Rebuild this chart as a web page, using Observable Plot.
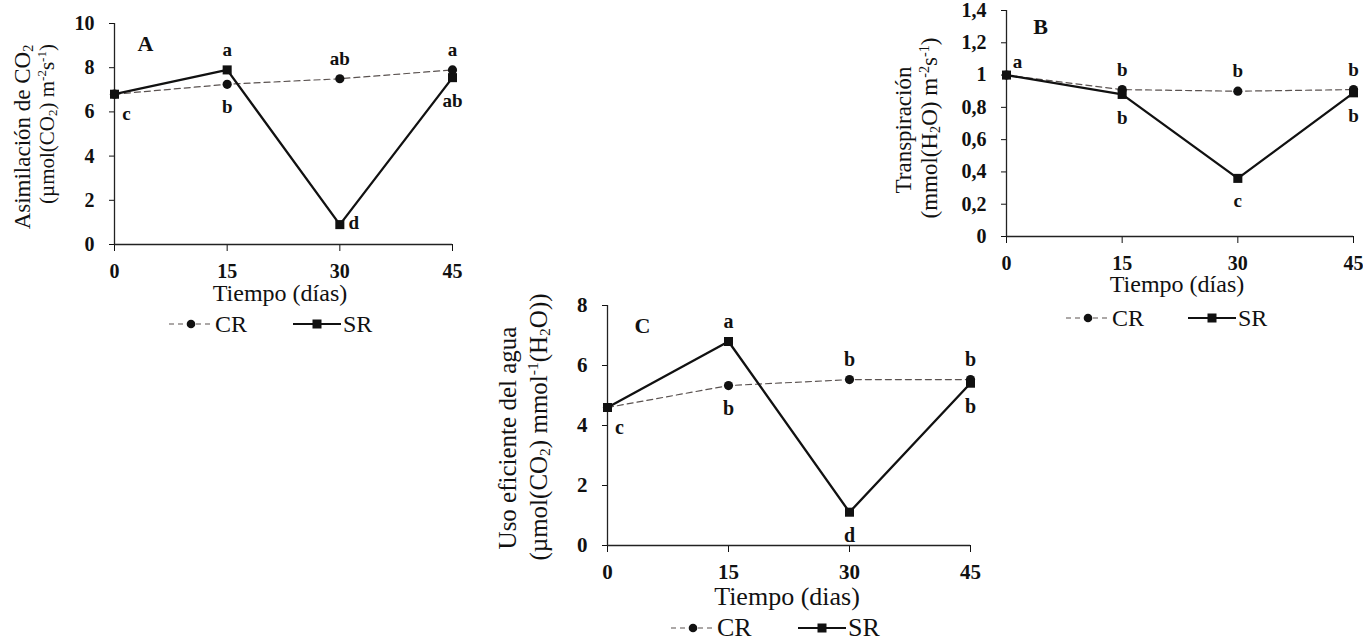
<!DOCTYPE html>
<html>
<head>
<meta charset="utf-8">
<script src="https://cdn.jsdelivr.net/npm/d3@7"></script>
<script src="https://cdn.jsdelivr.net/npm/@observablehq/plot@0.6"></script>
<style>
  html, body { margin: 0; padding: 0; background: #fff; }
  #root { position: relative; width: 1363px; height: 642px; overflow: hidden; background: #fff;
          font-family: "Liberation Serif", "Times New Roman", serif; color: #111; }
  .panel { position: absolute; }
  .panel svg { overflow: visible; }
  .ytitle { position: absolute; white-space: nowrap; line-height: 1; transform: translate(-50%, -50%) rotate(-90deg); }
  .xtitle { position: absolute; white-space: nowrap; line-height: 1; transform: translate(-50%, -50%); }
  .leg { position: absolute; white-space: nowrap; line-height: 1; transform: translateY(-50%); }
  .legsym { position: absolute; transform: translateY(-50%); overflow: visible; }
  sub, sup { font-size: 0.62em; line-height: 0; }
  sub { vertical-align: -0.25em; }
  sup { vertical-align: 0.55em; }
</style>
</head>
<body>
<div id="root"></div>
<script>
// ---------- data ----------
const days = [0, 15, 30, 45];
const seriesNames = ["CR", "SR"];

// A: Asimilación de CO2
const asimCR = [6.8, 7.25, 7.5, 7.9];
const asimSR = [6.8, 7.9, 0.9, 7.55];
const asimLetCR = ["c", "b", "ab", "a"];
const asimLetSR = ["", "a", "d", "ab"];
const asimTicks = [0, 2, 4, 6, 8, 10];

// B: Transpiración
const transCR = [1.0, 0.91, 0.90, 0.91];
const transSR = [1.0, 0.88, 0.36, 0.89];
const transLetCR = ["a", "b", "b", "b"];
const transLetSR = ["", "b", "c", "b"];
const transTicks = [0, 0.2, 0.4, 0.6, 0.8, 1, 1.2, 1.4];

// C: Uso eficiente del agua
const usoCR = [4.6, 5.33, 5.53, 5.53];
const usoSR = [4.6, 6.8, 1.11, 5.41];
const usoLetCR = ["c", "b", "b", "b"];
const usoLetSR = ["", "a", "d", "b"];
const usoTicks = [0, 2, 4, 6, 8];

const panelLetters = ["A", "B", "C"];
const xTitleA = "Tiempo (días)";
const xTitleB = "Tiempo (días)";
const xTitleC = "Tiempo (dias)";

// ---------- layout / style ----------
const root = document.getElementById("root");
const OFF = {
  above: {dx: 0, dy: -20},
  below: {dx: 0, dy: 23},
  right: {dx: 14, dy: -2},
  rb: {dx: 12, dy: 20},
  ra: {dx: 11, dy: -13}
};

function rows(vals) { return days.map((d, i) => ({d, v: vals[i]})); }

function letterRows(crVals, srVals, crLet, srLet, crPlace, srPlace) {
  const out = [];
  days.forEach((d, i) => {
    if (crLet[i] && crPlace[i]) out.push({d, v: crVals[i], label: crLet[i], place: crPlace[i]});
    if (srLet[i] && srPlace[i]) out.push({d, v: srVals[i], label: srLet[i], place: srPlace[i]});
  });
  return out;
}

function panel(cfg) {
  const cr = rows(cfg.cr), sr = rows(cfg.sr);
  const lets = letterRows(cfg.cr, cfg.sr, cfg.crLet, cfg.srLet, cfg.crPlace, cfg.srPlace);
  const letterMarks = Object.keys(OFF).map(p =>
    Plot.text(lets.filter(r => r.place === p), {
      x: "d", y: "v", text: "label", dx: OFF[p].dx, dy: OFF[p].dy,
      fontSize: cfg.letSize, fontWeight: "bold", fill: "#111",
      textAnchor: "middle", lineAnchor: "middle"
    })
  );
  const chart = Plot.plot({
    width: cfg.width, height: cfg.height,
    marginLeft: cfg.ml, marginRight: cfg.mr, marginTop: cfg.mt, marginBottom: cfg.mb,
    style: {fontFamily: '"Liberation Serif", "Times New Roman", serif', fontSize: cfg.tickSize + "px",
            fontWeight: "bold", color: "#111", background: "transparent", overflow: "visible"},
    x: {domain: [0, 45], ticks: days, tickSize: 7, tickPadding: 12, label: null},
    y: {domain: [0, cfg.yTicks[cfg.yTicks.length - 1]], ticks: cfg.yTicks, tickSize: 5, tickPadding: 15,
        label: null, tickFormat: d => String(d).replace(".", ",")},
    marks: [
      Plot.ruleY([0], {stroke: "#222", strokeWidth: 1.3}),
      Plot.ruleX([0], {stroke: "#222", strokeWidth: 1.3}),
      Plot.line(cr, {x: "d", y: "v", stroke: "#5a5250", strokeWidth: 1.2, strokeDasharray: "6,4"}),
      Plot.line(sr, {x: "d", y: "v", stroke: "#111", strokeWidth: 2.3}),
      Plot.dot(cr, {x: "d", y: "v", symbol: "circle", r: 4.6, fill: "#111"}),
      Plot.dot(sr, {x: "d", y: "v", symbol: "square", r: 5.1, fill: "#111"}),
      ...letterMarks,
      Plot.text([cfg.letter], {frameAnchor: "top-left", dx: cfg.letDx, dy: cfg.letDy, text: d => d,
        fontSize: 22, fontWeight: "bold", textAnchor: "middle", lineAnchor: "middle", fill: "#111"})
    ]
  });
  const div = document.createElement("div");
  div.className = "panel";
  div.style.left = cfg.left + "px";
  div.style.top = cfg.top + "px";
  div.appendChild(chart);
  root.appendChild(div);
}

function addHTML(cls, html, x, y, size) {
  const el = document.createElement("div");
  el.className = cls;
  el.innerHTML = html;
  el.style.left = x + "px";
  el.style.top = y + "px";
  el.style.fontSize = size + "px";
  root.appendChild(el);
}

function legend(crX, srX, y, size) {
  // CR: dashed line with circle; SR: solid line with square
  const ns = "http://www.w3.org/2000/svg";
  const mk = (left, w, dashed, sym) => {
    const svg = document.createElementNS(ns, "svg");
    svg.setAttribute("width", w); svg.setAttribute("height", 16);
    svg.setAttribute("class", "legsym");
    svg.style.left = left + "px"; svg.style.top = y + "px";
    const ln = document.createElementNS(ns, "line");
    ln.setAttribute("x1", 0); ln.setAttribute("x2", w); ln.setAttribute("y1", 8); ln.setAttribute("y2", 8);
    ln.setAttribute("stroke", dashed ? "#5a5250" : "#111");
    ln.setAttribute("stroke-width", dashed ? 1.2 : 2.2);
    if (dashed) ln.setAttribute("stroke-dasharray", "5,4");
    svg.appendChild(ln);
    if (sym === "circle") {
      const c = document.createElementNS(ns, "circle");
      c.setAttribute("cx", w / 2); c.setAttribute("cy", 8); c.setAttribute("r", 4.3); c.setAttribute("fill", "#111");
      svg.appendChild(c);
    } else {
      const r = document.createElementNS(ns, "rect");
      r.setAttribute("x", w / 2 - 4.5); r.setAttribute("y", 3.5); r.setAttribute("width", 9); r.setAttribute("height", 9); r.setAttribute("fill", "#111");
      svg.appendChild(r);
    }
    root.appendChild(svg);
  };
  mk(crX - 46, 44, true, "circle");
  addHTML("leg", seriesNames[0], crX, y, size);
  mk(srX - 50, 48, false, "square");
  addHTML("leg", seriesNames[1], srX, y, size);
}

// ---------- panels ----------
panel({left: 0, top: 0, width: 480, height: 290, ml: 114, mr: 28, mt: 23, mb: 46,
  cr: asimCR, sr: asimSR, crLet: asimLetCR, srLet: asimLetSR,
  crPlace: ["rb", "below", "above", "above"], srPlace: [null, "above", "right", "below"],
  yTicks: asimTicks, tickSize: 20, letSize: 19, letter: panelLetters[0], letDx: 31, letDy: 20});

panel({left: 880, top: 0, width: 483, height: 280, ml: 126, mr: 10, mt: 10, mb: 44,
  cr: transCR, sr: transSR, crLet: transLetCR, srLet: transLetSR,
  crPlace: ["ra", "above", "above", "above"], srPlace: [null, "below", "below", "below"],
  yTicks: transTicks, tickSize: 20, letSize: 19, letter: panelLetters[1], letDx: 34, letDy: 16});

panel({left: 480, top: 260, width: 520, height: 330, ml: 127, mr: 30, mt: 45, mb: 45,
  cr: usoCR, sr: usoSR, crLet: usoLetCR, srLet: usoLetSR,
  crPlace: ["rb", "below", "above", "above"], srPlace: [null, "above", "below", "below"],
  yTicks: usoTicks, tickSize: 21, letSize: 20, letter: panelLetters[2], letDx: 35, letDy: 20});

// ---------- axis titles ----------
addHTML("ytitle", "Asimilación de CO<sub>2</sub>", 22, 137, 23);
addHTML("ytitle", "(µmol(CO<sub>2</sub>) m<sup>-2</sup>s<sup>-1</sup>)", 47, 124, 21);
addHTML("xtitle", xTitleA, 280, 293, 24);

addHTML("ytitle", "Transpiración", 903, 130, 23);
addHTML("ytitle", "(mmol(H<sub>2</sub>O) m<sup>-2</sup>s<sup>-1</sup>)", 929, 128, 23);
addHTML("xtitle", xTitleB, 1177, 284, 24);

addHTML("ytitle", "Uso eficiente del agua", 507, 438, 25);
addHTML("ytitle", "(µmol(CO<sub>2</sub>) mmol<sup>-1</sup>(H<sub>2</sub>O))", 538, 427, 25);
addHTML("xtitle", xTitleC, 787, 597, 26);

// ---------- legends ----------
legend(215, 343, 324, 24);
legend(1112, 1238, 318, 24);
legend(717, 848, 628, 26);
</script>
</body>
</html>
